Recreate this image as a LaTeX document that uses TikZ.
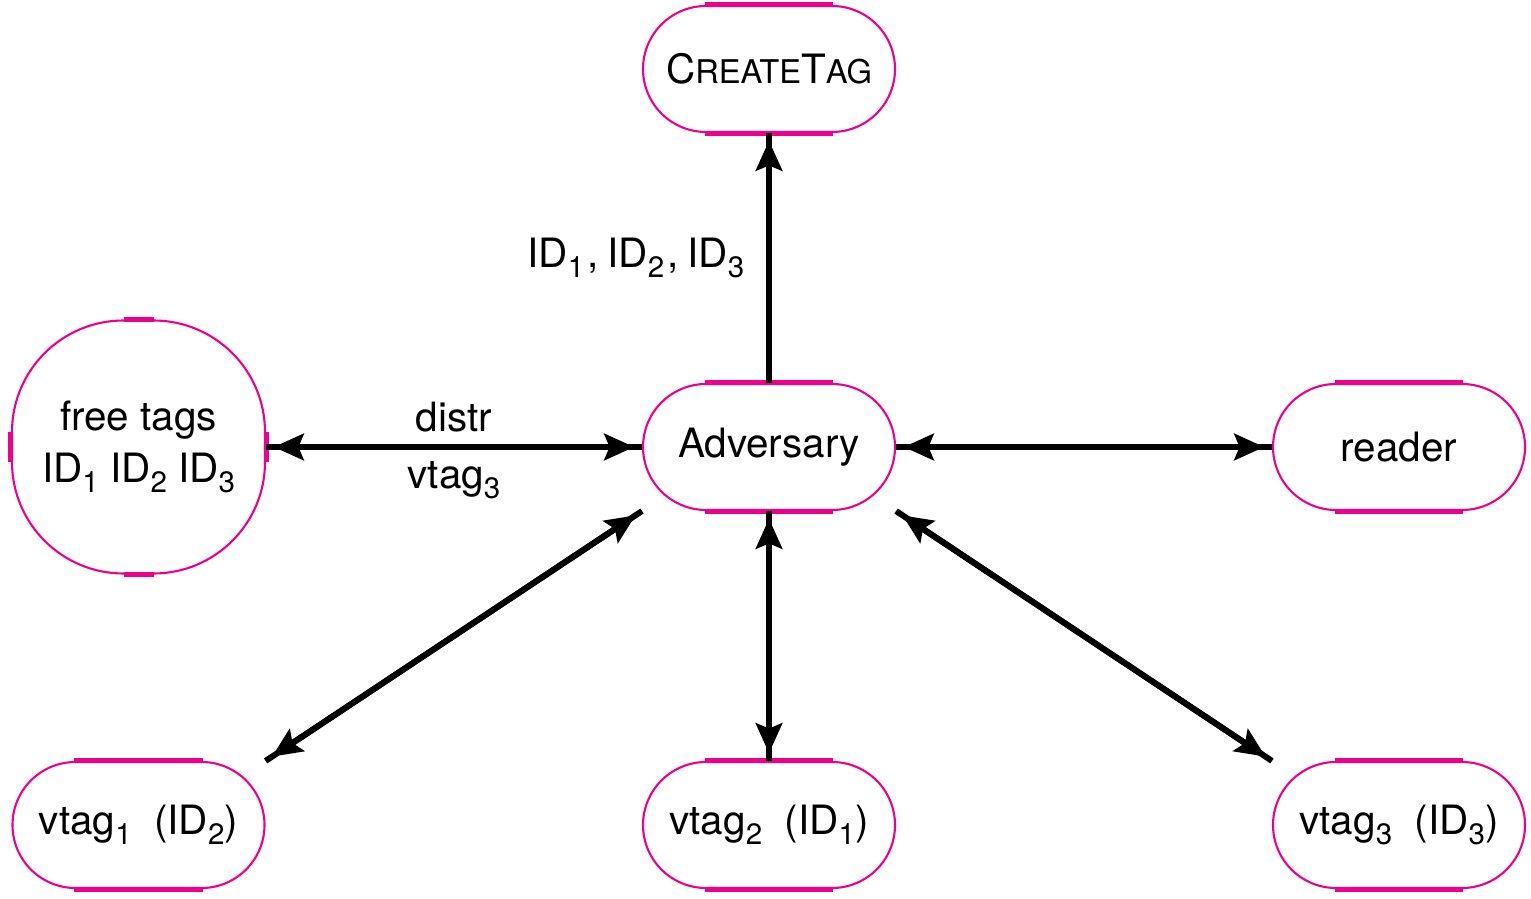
\documentclass[tikz,border=0pt]{standalone}
\usepackage{fontspec}
\setmainfont{TeX Gyre Heros}
\usepackage{tikz}
\usetikzlibrary{arrows.meta,calc}
\definecolor{tagpink}{RGB}{236,0,140}
\newcommand\sub[1]{\raisebox{-0.45ex}{\fontsize{8.4}{10}\selectfont #1}}
\newcommand\smc[1]{{\fontsize{9.3}{10}\selectfont #1}}
\newcommand\ID[1]{ID\sub{#1}}
\newcommand\vt[1]{vtag\sub{#1}}

\tikzset{
 party/.style={draw=tagpink,line width=0.6pt,rounded corners=0.63cm,minimum width=2.52cm,minimum height=1.26cm,inner sep=0pt,font=\fontsize{11.5}{14.8}\selectfont},
 pool/.style={party,rounded corners=1.115cm,minimum width=2.53cm,minimum height=2.53cm,align=center},
 seg/.style={tagpink,line width=1.4pt},
 msg/.style={line width=1.7pt,>={Stealth[length=8.5pt,width=7.5pt,inset=1.5pt]},
  shorten <=2.2pt,shorten >=2.2pt,
  preaction={draw,-,line width=1.7pt,shorten <=0pt,shorten >=0pt}},
 lbl/.style={font=\fontsize{11.5}{14.8}\selectfont},
}

\begin{document}
\begin{tikzpicture}
\useasboundingbox (0,0) rectangle (15.31,8.98);
\node[party] (create) at (7.69,8.29) {C\smc{REATE}T\smc{AG}};
\node[party] (adv) at (7.69,4.51) {Adversary};
\node[party] (reader) at (13.99,4.51) {reader};
\node[pool] (free) at (1.385,4.51) {free tags\\ \ID{1} \ID{2} \ID{3}};
\node[party] (vt1) at (1.385,0.73) {\vt{1}\ \ (\ID{2})};
\node[party] (vt2) at (7.69,0.73) {\vt{2}\ \ (\ID{1})};
\node[party] (vt3) at (13.99,0.73) {\vt{3}\ \ (\ID{3})};
% thick straight parts of the borders
\foreach \n in {create,adv,reader,vt1,vt2,vt3}{
 \draw[seg] ($(\n.north west)+(0.63,0)$) -- ($(\n.north east)+(-0.63,0)$);
 \draw[seg] ($(\n.south west)+(0.63,0)$) -- ($(\n.south east)+(-0.63,0)$);
}
\draw[seg] ($(free.north)+(-0.15,0)$) -- ($(free.north)+(0.15,0)$);
\draw[seg] ($(free.south)+(-0.15,0)$) -- ($(free.south)+(0.15,0)$);
\draw[seg] ($(free.west)+(0,-0.15)$) -- ($(free.west)+(0,0.15)$);
\draw[seg] ($(free.east)+(0,-0.15)$) -- ($(free.east)+(0,0.15)$);
% messages
\draw[msg,->] (adv.north) -- (create.south)
 node[lbl,midway,left,xshift=-0.1cm] {\ID{1}\kern1pt,\kern2.4pt\ID{2}\kern1pt,\kern2.4pt\ID{3}};
\draw[msg,<->] (free.east) -- (adv.west)
 node[lbl,midway,above] {distr}
 node[lbl,midway,below] {\vt{3}};
\draw[msg,<->] (adv.east) -- (reader.west);
\draw[msg,<->] (adv.south west) -- (vt1.north east);
\draw[msg,<->] (adv.south) -- (vt2.north);
\draw[msg,<->] (adv.south east) -- (vt3.north west);
\end{tikzpicture}
\end{document}
